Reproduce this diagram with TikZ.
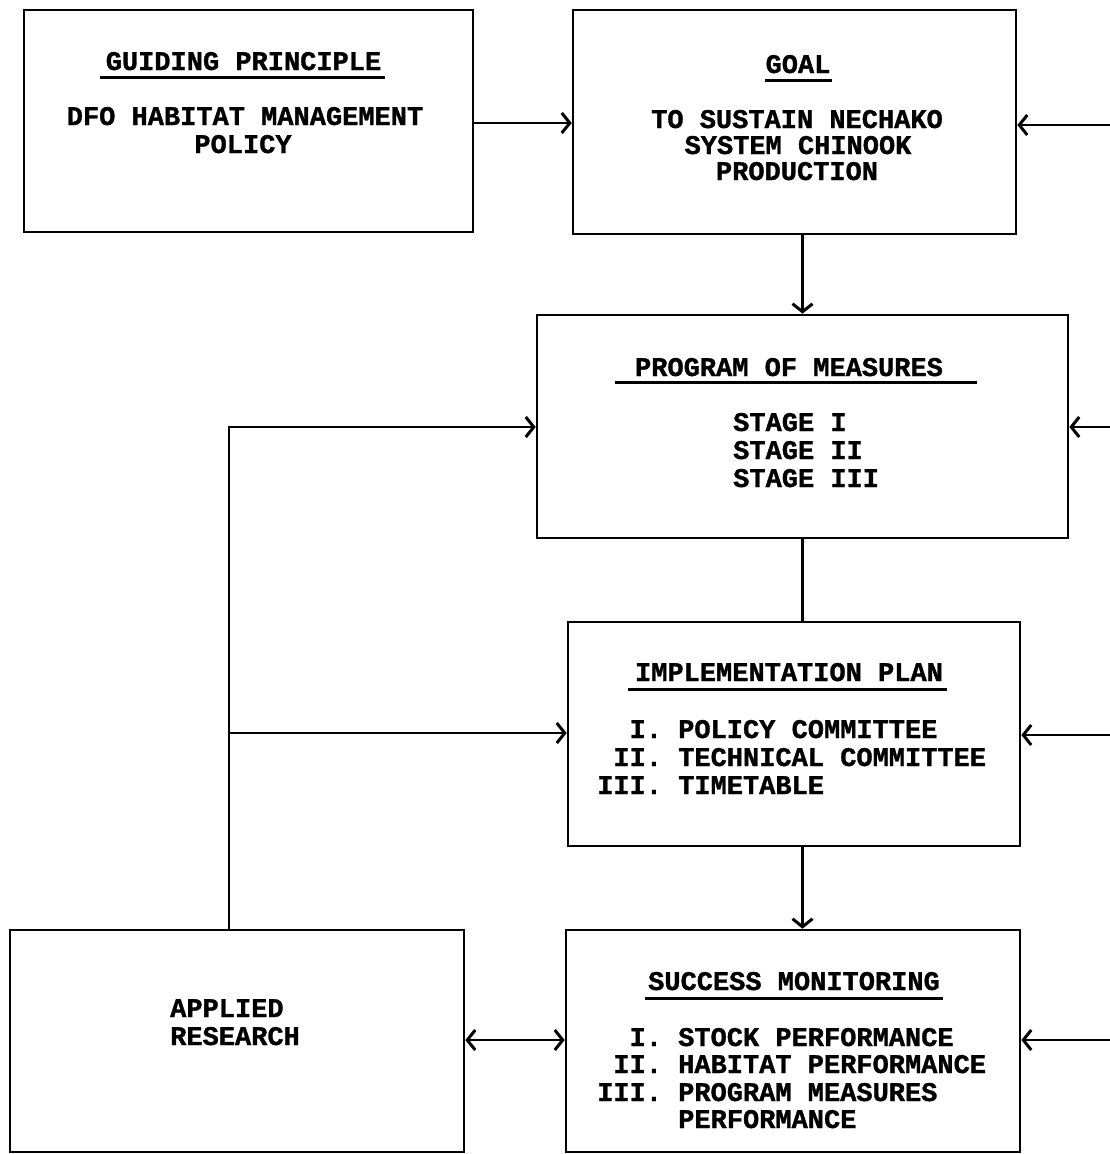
\documentclass[tikz,border=0pt]{standalone}
\usepackage{fontspec}
\newfontfamily\tw{Liberation Mono}[BoldFeatures={FakeBold=1.2}]
\usetikzlibrary{arrows.meta,calc}
\frenchspacing
\begin{document}
\begin{tikzpicture}[x=1pt,y=-1pt,
  box/.style={draw,line width=2.6pt,inner sep=0pt,minimum width=#1},
  txt/.style={inner sep=0pt,font=\tw\bfseries\fontsize{27}{28}\selectfont},
  tip/.style={},
  arr/.style={line width=2.6pt,-{Straight Barb[length=8pt,width=20pt,line width=3pt]}},
  darr/.style={line width=2.6pt,{Straight Barb[length=8pt,width=20pt,line width=3pt]}-{Straight Barb[length=8pt,width=20pt,line width=3pt]}},
  plain/.style={line width=2.6pt},
  uline/.style={line width=3pt}]
\useasboundingbox (0,0) rectangle (1110,1154);
% boxes
\node[box=449pt,minimum height=222pt] (guide) at (248.5,121) {};
\node[box=443pt,minimum height=224pt] (goal) at (794.5,122) {};
\node[box=531pt,minimum height=223pt] (prog) at (802.5,426.5) {};
\node[box=452pt,minimum height=224pt] (impl) at (794,734) {};
\node[box=454pt,minimum height=222pt] (appl) at (237,1041) {};
\node[box=454pt,minimum height=222pt] (succ) at (793,1041) {};
% guiding principle
\node[txt,anchor=base] (gt) at (243.5,70) {GUIDING PRINCIPLE};
\draw[uline] (100,77) -- (385,77);
\node[txt,anchor=base] (g1) at (245,125) {DFO HABITAT MANAGEMENT};
\node[txt,anchor=base] (g2) at (243,153) {POLICY};
% goal
\node[txt,anchor=base] (ot) at (798,73) {GOAL};
\draw[uline] (765,80) -- (832,80);
\node[txt,anchor=base] (o1) at (797,128) {TO SUSTAIN NECHAKO};
\node[txt,anchor=base] (o2) at (798,154) {SYSTEM CHINOOK};
\node[txt,anchor=base] (o3) at (797,180) {PRODUCTION};
% program
\node[txt,anchor=base] (pt) at (789,376) {PROGRAM OF MEASURES};
\draw[uline] (615,382) -- (977,382);
\node[txt,anchor=base west] (p1) at (733,431) {STAGE I};
\node[txt,anchor=base west] (p2) at (733,459) {STAGE II};
\node[txt,anchor=base west] (p3) at (733,487) {STAGE III};
% implementation
\node[txt,anchor=base] (it) at (789,681) {IMPLEMENTATION PLAN};
\draw[uline] (628,689) -- (947,689);
\node[txt,anchor=base west] (i1) at (597,738) {\phantom{II}I. POLICY COMMITTEE};
\node[txt,anchor=base west] (i2) at (597,766) {\phantom{I}II. TECHNICAL COMMITTEE};
\node[txt,anchor=base west] (i3) at (597,794) {III. TIMETABLE};
% success monitoring
\node[txt,anchor=base] (st) at (794,990) {SUCCESS MONITORING};
\draw[uline] (645,998) -- (943,998);
\node[txt,anchor=base west] (s1) at (597,1046) {\phantom{II}I. STOCK PERFORMANCE};
\node[txt,anchor=base west] (s2) at (597,1073) {\phantom{I}II. HABITAT PERFORMANCE};
\node[txt,anchor=base west] (s3) at (597,1101) {III. PROGRAM MEASURES};
\node[txt,anchor=base west] (s4) at (597,1128) {\phantom{III. }PERFORMANCE};
% applied research
\node[txt,anchor=base west] (a1) at (170,1017) {APPLIED};
\node[txt,anchor=base west] (a2) at (170,1045) {RESEARCH};
% connectors
\coordinate (gg) at (520,123);
\draw[arr] (guide.east |- gg) -- (goal.west |- gg);
\draw[arr] (goal.south -| prog.north) -- (prog.north);
\draw[plain] (prog.south) -- (impl.north -| prog.south);
\draw[arr] (impl.south -| prog.south) -- (succ.north -| prog.south);
\coordinate (lt) at (229,427);
\coordinate (lm) at (229,733);
\draw[arr] (appl.north -| lt) -- (lt) -- (prog.west |- lt);
\draw[arr] (lm) -- (impl.west |- lm);
\coordinate (ar) at (515,1040);
\draw[darr] (appl.east |- ar) -- (succ.west |- ar);
\coordinate (r1) at (1111,125);
\coordinate (r2) at (1111,427);
\coordinate (r3) at (1111,735);
\coordinate (r4) at (1111,1040);
\draw[arr] (r1) -- (goal.east |- r1);
\draw[arr] (r2) -- (prog.east |- r2);
\draw[arr] (r3) -- (impl.east |- r3);
\draw[arr] (r4) -- (succ.east |- r4);
\end{tikzpicture}
\end{document}
